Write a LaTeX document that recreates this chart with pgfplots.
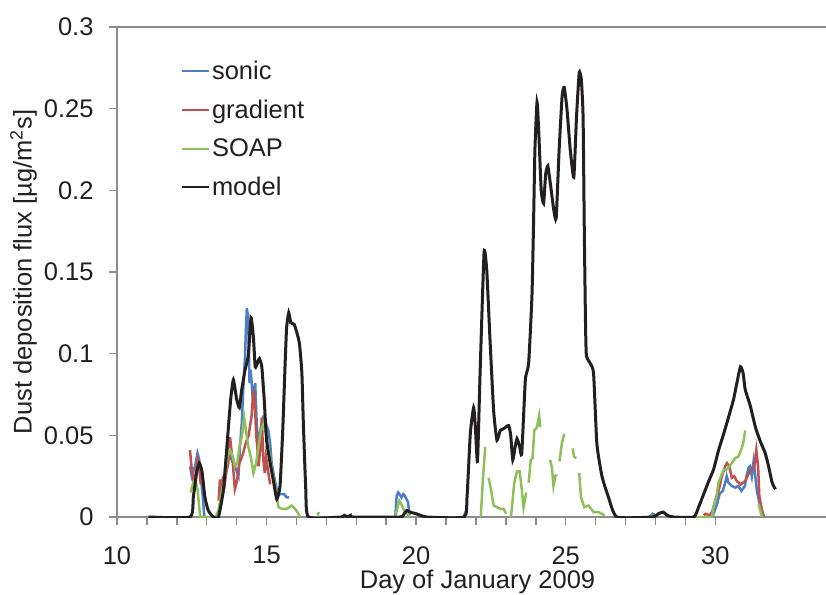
\documentclass[border=0pt]{standalone}
\usepackage{fontspec}
\setmainfont{Liberation Sans}
\usepackage{pgfplots}
\pgfplotsset{compat=1.18}
\definecolor{sonic}{HTML}{4A7EC7}
\definecolor{grad}{HTML}{C0504D}
\definecolor{soap}{HTML}{8DC05A}
\definecolor{axisgray}{HTML}{8C8C8C}
\definecolor{txt}{HTML}{231F20}

\begin{document}
\begin{tikzpicture}
\begin{axis}[
  at={(0,0)}, anchor=south west,
  scale only axis, width=709pt, height=490pt,
  xmin=10, xmax=33.7, ymin=0, ymax=0.3,
  axis lines=left,
  axis line style={-, axisgray, line width=1.5pt},
  xtick={10,15,20,25,30},
  minor x tick num=4,
  ytick={0,0.05,0.1,0.15,0.2,0.25,0.3},
  yticklabels={0,0.05,0.1,0.15,0.2,0.25,0.3},
  tick align=outside,
  major tick length=8pt, minor tick length=8pt,
  tick style={axisgray, line width=1.5pt},
  tick label style={font=\fontsize{25.5}{30}\selectfont, text=txt},
  xticklabel style={inner sep=0pt, yshift=-21pt},
  yticklabel style={xshift=-12pt},
  label style={font=\fontsize{25.5}{30}\selectfont, text=txt},
  xlabel style={at={(axis description cs:0.5,0)}, anchor=north, inner sep=0pt, yshift=-53pt, xshift=6pt},
  /pgf/number format/assume math mode=true,
  xlabel={Day of January 2009},
  ylabel={Dust deposition flux [µg/m\textsuperscript{2}s]},
  unbounded coords=jump,
  legend style={at={(axis description cs:0.09,0.935)}, anchor=north west,
    draw=none, fill=none, font=\fontsize{25.5}{30}\selectfont, text=txt,
    row sep=15pt, inner sep=0pt},
  legend cell align=left,
  legend image code/.code={\draw[#1, line width=2pt] (0pt,0pt) -- (27pt,0pt);},
]
% sonic
\addplot[sonic, line width=2.5pt] coordinates {
(12.44,0.031) (12.50,0.025) (12.55,0.028) (12.61,0.031) (12.69,0.039) (12.75,0.035) (12.80,0.025) (12.87,0.012) (12.92,0) (12.95,nan)
(13.55,0.015) (13.58,0.020) (13.61,0.029) (13.66,0.038) (13.72,0.043) (13.78,0.038) (13.83,0.035) (13.94,0.031) (14.00,0.028) (14.06,0.025)
(14.11,0.043) (14.17,0.057) (14.22,0.078) (14.28,0.098) (14.31,0.115) (14.34,0.128) (14.37,0.124) (14.39,0.119) (14.43,0.082) (14.47,0.090)
(14.54,0.072) (14.62,0.082) (14.67,0.057) (14.73,0.043) (14.78,0.051) (14.84,0.058) (14.89,0.061) (14.98,0.057) (15.06,0.053) (15.12,0.045)
(15.17,0.033) (15.25,0.025) (15.34,0.017) (15.43,0.014) (15.51,0.014) (15.59,0.014) (15.67,0.012) (15.75,0.012) (15.80,nan)
(19.30,0) (19.35,0.013) (19.40,0.015) (19.44,0.014) (19.51,0.012) (19.57,0.014) (19.62,0.013) (19.73,0.009) (19.78,0.001) (19.80,nan)
(27.80,0) (27.90,0.002) (28.00,0.001) (28.05,nan)
(29.90,0) (30.06,0.008) (30.14,0.014) (30.25,0.016) (30.33,0.021) (30.38,0.025) (30.44,0.021) (30.55,0.019) (30.66,0.018) (30.77,0.019)
(30.87,0.016) (30.99,0.019) (31.04,0.025) (31.11,0.030) (31.16,0.031) (31.22,0.025) (31.28,0.034) (31.33,0.026) (31.39,0.016) (31.47,0.009)
(31.56,0.004) (31.63,0)
};
\addlegendentry{sonic}
% gradient
\addplot[grad, line width=2.5pt] coordinates {
(12.44,0.041) (12.47,0.035) (12.50,0.029) (12.55,0.023) (12.62,0.025) (12.69,0.035) (12.75,0.030) (12.80,0.020) (12.82,nan)
(13.40,0.010) (13.44,0.023) (13.47,0.017) (13.53,0.023) (13.60,0.020) (13.66,0.028) (13.72,0.033) (13.78,0.049) (13.83,0.040) (13.87,0.033)
(13.94,0.017) (14.00,0.021) (14.09,0.033) (14.20,0.038) (14.30,0.045) (14.40,0.050) (14.50,0.062) (14.56,0.078) (14.62,0.065) (14.65,0.051)
(14.69,0.043) (14.73,0.031) (14.78,0.040) (14.84,0.061) (14.89,0.035) (14.94,0.027) (14.98,0.037) (15.06,0.027) (15.12,0.020) (15.15,nan)
(29.61,0.001) (29.67,0.002) (29.80,0.001) (29.89,0.003) (30.00,0.010) (30.11,0.016) (30.22,0.025) (30.33,0.031) (30.39,0.033) (30.47,0.031)
(30.55,0.024) (30.63,0.025) (30.72,0.022) (30.85,0.020) (31.00,0.022) (31.15,0.028) (31.30,0.030) (31.37,0.041) (31.43,0.031) (31.47,0.013)
(31.53,0.007) (31.60,0)
};
\addlegendentry{gradient}
% SOAP
\addplot[soap, line width=2.5pt] coordinates {
(12.46,0.015) (12.53,0.020) (12.61,0.023) (12.69,0.017) (12.78,0) (13.30,0) (13.39,0.004) (13.50,0.015) (13.61,0.025) (13.69,0.037)
(13.78,0.041) (13.87,0.037) (13.94,0.031) (14.02,0.033) (14.11,0.045) (14.17,0.049) (14.25,0.061) (14.31,0.053) (14.39,0.043) (14.47,0.037)
(14.56,0.027) (14.65,0.033) (14.73,0.043) (14.81,0.053) (14.89,0.057) (14.98,0.051) (15.06,0.043) (15.14,0.033) (15.23,0.025) (15.32,0.015)
(15.40,0.006) (15.51,0.005) (15.67,0.005) (15.84,0.007) (15.95,0.005) (16.03,0.003) (16.12,0) (16.15,nan)
(16.70,0.001) (16.75,0.003) (16.78,nan)
(19.30,0) (19.38,0.006) (19.44,0.010) (19.50,0.008) (19.60,0.004) (19.70,0.002) (19.78,0) (19.80,nan)
(21.60,0.001) (21.67,0.004) (21.70,nan)
(22.16,0) (22.23,0.023) (22.31,0.043) (22.35,nan)
(22.42,0.024) (22.50,0.017) (22.59,0.007) (22.70,0.006) (22.81,0.005) (22.92,0.005) (23.01,0.002) (23.05,nan)
(23.17,0) (23.28,0.021) (23.37,0.028) (23.46,0.028) (23.53,0.017) (23.59,0.006) (23.68,0.015) (23.72,nan)
(23.76,0.021) (23.83,0.035) (23.89,0.036) (23.95,0.053) (24.04,0.055) (24.11,0.062) (24.15,0.055) (24.20,nan)
(24.48,0.035) (24.54,0.030) (24.59,0.019) (24.65,0.025) (24.70,0.026) (24.74,nan)
(24.79,0.034) (24.87,0.045) (24.95,0.051) (25.00,nan)
(25.23,0.042) (25.28,0.037) (25.35,0.036) (25.40,nan)
(25.45,0.027) (25.51,0.012) (25.62,0.006) (25.76,0.007) (25.93,0.003) (26.10,0.003) (26.30,0.001) (26.35,nan)
(27.80,0) (27.90,0.001) (27.95,nan)
(29.33,0) (29.89,0) (29.94,0.006) (30.03,0.012) (30.11,0.021) (30.19,0.025) (30.28,0.029) (30.37,0.029) (30.44,0.030) (30.55,0.033)
(30.66,0.036) (30.77,0.037) (30.86,0.041) (30.93,0.045) (31.00,0.053) (31.05,nan)
(31.45,0.008) (31.50,0.004) (31.56,0)
};
\addlegendentry{SOAP}
% model
\addplot[txt, line width=3pt, smooth, tension=0.3] coordinates {
(11.05,0) (12.44,0) (12.55,0.012) (12.66,0.027) (12.75,0.033) (12.84,0.028) (12.94,0.012) (13.05,0.004) (13.22,0) (13.39,0)
(13.56,0.017) (13.69,0.047) (13.80,0.072) (13.89,0.084) (14.00,0.072) (14.09,0.067) (14.17,0.078) (14.28,0.090) (14.39,0.099) (14.48,0.122)
(14.56,0.110) (14.62,0.092) (14.69,0.094) (14.76,0.097) (14.84,0.092) (14.92,0.072) (15.00,0.047) (15.12,0.033) (15.23,0.022) (15.34,0.011)
(15.45,0.019) (15.54,0.053) (15.62,0.094) (15.67,0.116) (15.74,0.125) (15.81,0.119) (15.92,0.118) (16.01,0.113) (16.10,0.106) (16.18,0.088)
(16.23,0.057) (16.31,0.017) (16.40,0) (17.50,0) (17.60,0.001) (17.70,0) (17.80,0.001) (17.90,0) (19.45,0) (19.60,0.002)
(19.69,0.004) (19.80,0.003) (20.00,0.002) (20.36,0) (21.60,0) (21.70,0.012) (21.81,0.051) (21.92,0.067) (21.98,0.055) (22.05,0.034)
(22.14,0.090) (22.27,0.162) (22.36,0.151) (22.47,0.108) (22.59,0.065) (22.70,0.047) (22.81,0.053) (22.92,0.054) (23.09,0.056) (23.16,0.050)
(23.23,0.035) (23.30,0.042) (23.37,0.048) (23.46,0.043) (23.53,0.039) (23.65,0.084) (23.76,0.094) (23.87,0.135) (23.92,0.176) (23.97,0.225)
(24.04,0.254) (24.10,0.235) (24.18,0.200) (24.26,0.192) (24.33,0.210) (24.40,0.215) (24.48,0.205) (24.60,0.188) (24.68,0.183) (24.78,0.225)
(24.88,0.258) (24.95,0.263) (25.04,0.250) (25.15,0.225) (25.27,0.208) (25.36,0.245) (25.45,0.272) (25.52,0.268) (25.58,0.245) (25.62,0.176)
(25.66,0.120) (25.69,0.099) (25.82,0.094) (25.93,0.088) (26.04,0.045) (26.21,0.025) (26.43,0.012) (26.71,0) (27.90,0) (28.10,0.002)
(28.25,0.003) (28.40,0.001) (28.60,0) (29.28,0) (29.44,0.006) (29.61,0.014) (29.78,0.022) (29.94,0.029) (30.11,0.041) (30.28,0.051)
(30.44,0.061) (30.61,0.072) (30.72,0.082) (30.84,0.092) (30.93,0.088) (31.00,0.078) (31.17,0.068) (31.34,0.055) (31.51,0.046) (31.67,0.039)
(31.78,0.031) (31.90,0.021) (32.01,0.017)
};
\addlegendentry{model}
\draw[axisgray, line width=1.5pt] (rel axis cs:0,1) -- (rel axis cs:1,1);
\end{axis}
\pgfresetboundingbox
\useasboundingbox (-117pt,-77pt) rectangle (709pt,517pt);
\end{tikzpicture}
\end{document}
